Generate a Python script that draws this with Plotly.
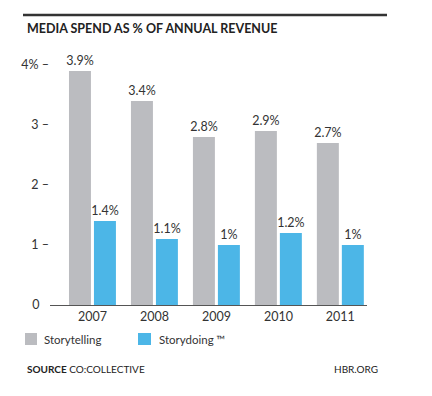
import plotly.graph_objects as go

years = ["2007", "2008", "2009", "2010", "2011"]
storytelling = [3.9, 3.4, 2.8, 2.9, 2.7]
storydoing = [1.4, 1.1, 1.0, 1.2, 1.0]
storytelling_labels = ["3.9%", "3.4%", "2.8%", "2.9%", "2.7%"]
storydoing_labels = ["1.4%", "1.1%", "1%", "1.2%", "1%"]
series_names = ["Storytelling", "Storydoing \u2122"]
y_tickvals = [0, 1, 2, 3, 4]
y_ticktext = ["0\u00a0\u00a0\u00a0", "1 \u2013", "2 \u2013", "3 \u2013", "4% \u2013"]

GRAY = "#BBBCC0"
BLUE = "#4CB6E7"
TXT = "#333333"
FONT = "Lato"

fig = go.Figure()
fig.add_trace(go.Bar(x=years, y=storytelling, name=series_names[0], marker_color=GRAY,
                     marker_line_width=0, text=storytelling_labels, textposition="outside",
                     constraintext="none",
                     textfont=dict(family=FONT, size=12.5, color=TXT), cliponaxis=False))
fig.add_trace(go.Bar(x=years, y=storydoing, name=series_names[1], marker_color=BLUE,
                     marker_line_width=0, text=storydoing_labels, textposition="outside",
                     constraintext="none",
                     textfont=dict(family=FONT, size=12.5, color=TXT), cliponaxis=False))

OFF = 8  # page body margin
W, H = 432 - OFF, 396 - OFF
L, T = 50 - OFF, 59 - OFF
R = W - (367 - OFF)
B = H - (305 - OFF)
pw = W - L - R
ph = H - T - B

def px(x):
    return (x - OFF - L) / pw

def py(y):
    return (H - B - (y - OFF)) / ph

fig.update_layout(
    width=W, height=H,
    margin=dict(l=L, r=R, t=T, b=B, pad=0),
    paper_bgcolor="white", plot_bgcolor="white",
    barmode="group", bargap=0.194, bargroupgap=0.12,
    showlegend=False,
    font=dict(family=FONT, color=TXT),
    xaxis=dict(type="category", range=[-0.685, 4.43], showgrid=False, zeroline=False,
               showline=True, linecolor="#555555", linewidth=1.2, ticks="",
               tickfont=dict(family=FONT, size=12.5, color=TXT), ticklabelstandoff=0),
    yaxis=dict(range=[0, 4.1], tickvals=y_tickvals, ticktext=y_ticktext, showgrid=False,
               zeroline=False, showline=False, ticks="",
               tickfont=dict(family=FONT, size=12.5, color=TXT), ticklabelstandoff=0),
)

shapes = [
    dict(type="line", xref="paper", yref="paper", x0=px(23), x1=px(387), y0=py(15), y1=py(15),
         line=dict(color="#333333", width=2.5)),
    dict(type="rect", xref="paper", yref="paper", x0=px(25), x1=px(37), y0=py(345), y1=py(333),
         fillcolor=GRAY, line_width=0),
    dict(type="rect", xref="paper", yref="paper", x0=px(138), x1=px(151), y0=py(345), y1=py(333),
         fillcolor=BLUE, line_width=0),
]
fig.update_layout(shapes=shapes)

ann = [
    dict(text="<b>MEDIA SPEND AS % OF ANNUAL REVENUE</b>", x=px(25), y=py(28),
         font=dict(family=FONT, size=12.5, color="#222222")),
    dict(text=series_names[0], x=px(42), y=py(339), font=dict(family=FONT, size=11.5, color=TXT)),
    dict(text=series_names[1], x=px(157), y=py(339), font=dict(family=FONT, size=11.5, color=TXT)),
    dict(text="<b>SOURCE</b> CO:COLLECTIVE", x=px(25), y=py(369), font=dict(family=FONT, size=10, color="#222222")),
    dict(text="HBR.ORG", x=px(380), y=py(369), xanchor="right", font=dict(family=FONT, size=10, color="#222222")),
]
for a in ann:
    a.setdefault("xanchor", "left")
    fig.add_annotation(xref="paper", yref="paper", showarrow=False, yanchor="middle", **a)

fig.write_html("out.html")
